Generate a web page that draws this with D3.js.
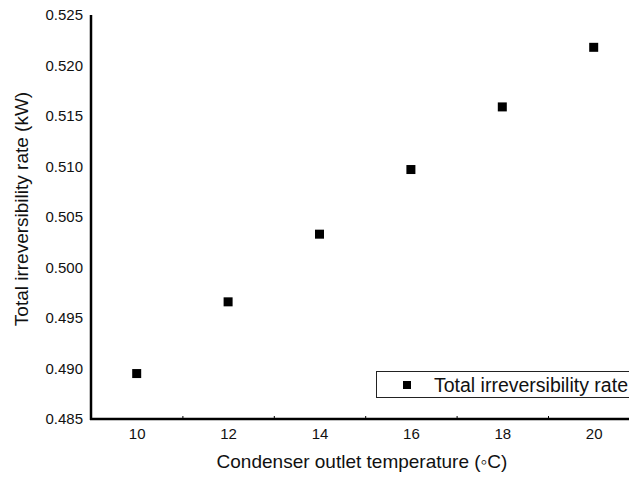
<!DOCTYPE html>
<html>
<head>
<meta charset="utf-8">
<script src="https://cdn.jsdelivr.net/npm/d3@7"></script>
<style>
  html, body { margin: 0; padding: 0; background: #fff; }
  svg { display: block; font-family: Arial, "Liberation Sans", sans-serif; }
</style>
</head>
<body>
<svg id="chart" width="629" height="477"></svg>
<script>
// Condenser outlet temperature (°C) and total irreversibility rate (kW)
const temperatures = [10, 12, 14, 16, 18, 20];
const irreversibility = [0.4895, 0.4966, 0.5033, 0.5097, 0.5159, 0.5218];
const xTickLabels = [10, 12, 14, 16, 18, 20];
const xMinorTicks = [11, 13, 15, 17, 19];
const yTickValues = [0.485, 0.490, 0.495, 0.500, 0.505, 0.510, 0.515, 0.520, 0.525];
const seriesName = "Total irreversibility rate";

const svg = d3.select("#chart");
const plotLeft = 91, plotBottom = 419, plotTop = 15;

const x = d3.scaleLinear().domain([9, 21]).range([plotLeft, plotLeft + 12 * 45.7]);
const y = d3.scaleLinear().domain([0.485, 0.525]).range([plotBottom, plotTop]);

// y axis: labels only, with the spine drawn separately
const yAxis = svg.append("g")
  .attr("transform", `translate(${plotLeft},0)`)
  .call(d3.axisLeft(y).tickValues(yTickValues).tickFormat(d3.format(".3f")).tickSize(0).tickPadding(8))
  .attr("font-family", null).attr("font-size", 15);
yAxis.select(".domain").remove();
yAxis.selectAll("text").attr("fill", "#111");

// x axis: labels at even temperatures
const xAxis = svg.append("g")
  .attr("transform", `translate(0,${plotBottom})`)
  .call(d3.axisBottom(x).tickValues(xTickLabels).tickFormat(d3.format("d")).tickSize(0).tickPadding(9))
  .attr("font-family", null).attr("font-size", 15);
xAxis.select(".domain").remove();
xAxis.selectAll("text").attr("fill", "#111");

// small inner ticks between categories
svg.append("g")
  .attr("transform", `translate(0,${plotBottom})`)
  .call(d3.axisBottom(x).tickValues(xMinorTicks).tickSize(-3).tickFormat(""))
  .call(g => g.select(".domain").remove())
  .selectAll("line").attr("stroke", "#000").attr("stroke-width", 1);

// axis spines
svg.append("line")
  .attr("x1", plotLeft).attr("x2", plotLeft)
  .attr("y1", y(0.525)).attr("y2", plotBottom + 1)
  .attr("stroke", "#000").attr("stroke-width", 2.5);
svg.append("line")
  .attr("x1", plotLeft - 1).attr("x2", x(21))
  .attr("y1", plotBottom).attr("y2", plotBottom)
  .attr("stroke", "#000").attr("stroke-width", 2.5);

// data markers
const ms = 9;
svg.append("g").selectAll("rect")
  .data(temperatures.map((t, i) => ({ t, v: irreversibility[i] })))
  .join("rect")
  .attr("x", d => x(d.t) - ms / 2)
  .attr("y", d => y(d.v) - ms / 2)
  .attr("width", ms).attr("height", ms)
  .attr("fill", "#000");

// axis titles
svg.append("text")
  .attr("x", 362).attr("y", 468)
  .attr("text-anchor", "middle")
  .attr("font-size", 19).attr("fill", "#111")
  .text("Condenser outlet temperature (◦C)");

svg.append("text")
  .attr("transform", `translate(28,${(plotTop + plotBottom) / 2 - 8}) rotate(-90)`)
  .attr("text-anchor", "middle")
  .attr("font-size", 19).attr("fill", "#111")
  .text("Total irreversibility rate (kW)");

// legend
const legend = svg.append("g").attr("transform", "translate(376,371)");
legend.append("rect")
  .attr("x", 0.5).attr("y", 0.5).attr("width", 300).attr("height", 26)
  .attr("fill", "#fff").attr("stroke", "#222").attr("stroke-width", 1);
legend.append("rect")
  .attr("x", 31 - 4).attr("y", 14 - 4).attr("width", 8).attr("height", 8)
  .attr("fill", "#000");
legend.append("text")
  .attr("x", 58).attr("y", 20.5)
  .attr("font-size", 19.5).attr("fill", "#111")
  .text(seriesName);
</script>
</body>
</html>
